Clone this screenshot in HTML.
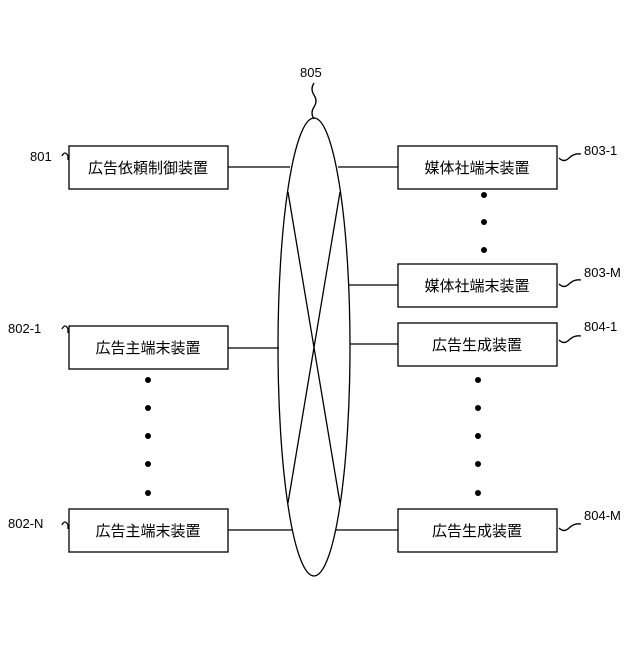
<!DOCTYPE html>
<html><head><meta charset="utf-8"><style>
body{margin:0;background:#fff}
svg text{font-family:"Liberation Sans","Noto Sans CJK JP",sans-serif;fill:#000}
</style></head><body>
<svg width="640" height="640" viewBox="0 0 640 640" xmlns="http://www.w3.org/2000/svg">
<g fill="none" stroke="#000" stroke-width="1.3">
<ellipse cx="314" cy="347" rx="36" ry="229"/>
<line x1="288" y1="192" x2="340" y2="503"/>
<line x1="340" y1="192" x2="288" y2="503"/>
<rect x="69" y="146" width="159" height="43"/>
<rect x="69" y="326" width="159" height="43"/>
<rect x="69" y="509" width="159" height="43"/>
<rect x="398" y="146" width="159" height="43"/>
<rect x="398" y="264" width="159" height="43"/>
<rect x="398" y="323" width="159" height="43"/>
<rect x="398" y="509" width="159" height="43"/>
<line x1="228" y1="167" x2="290" y2="167"/>
<line x1="338" y1="167" x2="398" y2="167"/>
<line x1="228" y1="348" x2="279" y2="348"/>
<line x1="228" y1="530" x2="292" y2="530"/>
<line x1="349" y1="285" x2="398" y2="285"/>
<line x1="350" y1="344" x2="398" y2="344"/>
<line x1="336" y1="530" x2="398" y2="530"/>
<path d="M314 119 q-4-6 0-12 q4-6 0-12 q-4-6 0-12"/>
<path d="M62 156 q3-6 6 0 v4"/>
<path d="M62 329 q3-6 6 0 v4"/>
<path d="M62 525 q3-6 6 0 v4"/>
<path d="M559 158 q5 5 10 0 q5-5 12-4"/>
<path d="M559 284 q5 5 10 0 q5-5 12-4"/>
<path d="M559 340 q5 5 10 0 q5-5 12-4"/>
<path d="M559 528 q5 5 10 0 q5-5 12-4"/>
</g>
<g fill="#000">
<circle cx="484" cy="195" r="3"/><circle cx="484" cy="222" r="3"/><circle cx="484" cy="250" r="3"/>
<circle cx="478" cy="380" r="3"/><circle cx="478" cy="408" r="3"/><circle cx="478" cy="436" r="3"/><circle cx="478" cy="464" r="3"/><circle cx="478" cy="493" r="3"/>
<circle cx="148" cy="380" r="3"/><circle cx="148" cy="408" r="3"/><circle cx="148" cy="436" r="3"/><circle cx="148" cy="464" r="3"/><circle cx="148" cy="493" r="3"/>
</g>
<g font-size="15" text-anchor="middle">
<text x="148" y="173">広告依頼制御装置</text>
<text x="148" y="353">広告主端末装置</text>
<text x="148" y="536">広告主端末装置</text>
<text x="477" y="173">媒体社端末装置</text>
<text x="477" y="291">媒体社端末装置</text>
<text x="477" y="350">広告生成装置</text>
<text x="477" y="536">広告生成装置</text>
</g>
<g font-size="13">
<text x="300" y="77">805</text>
<text x="30" y="161">801</text>
<text x="8" y="333">802-1</text>
<text x="8" y="528">802-N</text>
<text x="584" y="155">803-1</text>
<text x="584" y="277">803-M</text>
<text x="584" y="331">804-1</text>
<text x="584" y="520">804-M</text>
</g>
</svg>
</body></html>
